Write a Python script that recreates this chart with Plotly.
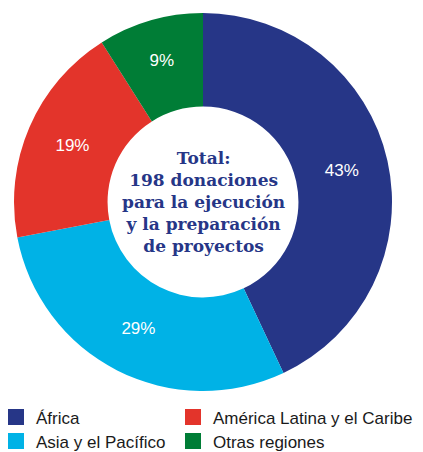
import plotly.graph_objects as go

labels = ["África", "Asia y el Pacífico", "América Latina y el Caribe", "Otras regiones"]
values = [43, 29, 19, 9]
colors = ["#263687", "#00B2E6", "#E3342B", "#007D36"]
legend_order = ["África", "América Latina y el Caribe", "Asia y el Pacífico", "Otras regiones"]
center_text = "Total:<br>198 donaciones<br>para la ejecución<br>y la preparación<br>de proyectos"

# page body adds an 8px margin, so the figure is drawn 8px smaller and everything is offset by -8px
OFF = 8
W, H = 423 - OFF, 452 - OFF
cx, cy, R = 203 - OFF, 202 - OFF, 189

fig = go.Figure()
fig.add_trace(go.Pie(
    labels=labels, values=values, sort=False, direction="clockwise", rotation=0,
    hole=0.505,
    marker=dict(colors=colors, line=dict(color="white", width=0)),
    texttemplate="%{value}%", textposition="inside", insidetextorientation="horizontal",
    textfont=dict(color="white", size=17, family="Liberation Sans"),
    showlegend=False, hoverinfo="label+value",
    domain=dict(x=[(cx - R) / W, (cx + R) / W], y=[1 - (cy + R) / H, 1 - (cy - R) / H]),
))

color_map = dict(zip(labels, colors))
row1, row2 = 417.5 - OFF, 441.5 - OFF
col1, col2 = 1 - OFF, 180 - OFF
legend_pos = {
    "África": (col1 - 5, row1),
    "América Latina y el Caribe": (col2 - 7, row1),
    "Asia y el Pacífico": (col1 - 5, row2),
    "Otras regiones": (col2 - 7, row2),
}
layout_legends = {}
for i, name in enumerate(legend_order):
    key = "legend" if i == 0 else f"legend{i+1}"
    fig.add_trace(go.Scatter(
        x=[None], y=[None], mode="markers", name=name,
        marker=dict(symbol="square", size=16, color=color_map[name]),
        legend=key, showlegend=True,
    ))
    lx, ly = legend_pos[name]
    layout_legends[key] = dict(
        x=lx / W, y=1 - ly / H, xanchor="left", yanchor="middle", orientation="h",
        font=dict(size=17, family="Liberation Sans", color="#1a1a1a"),
        bgcolor="rgba(0,0,0,0)", borderwidth=0, itemclick=False,
    )

fig.add_annotation(
    x=cx / W, y=1 - cy / H, xref="paper", yref="paper", text=center_text, showarrow=False,
    font=dict(size=17, family="DejaVu Serif", color="#263687", weight="bold"),
    align="center",
)

fig.update_layout(
    width=W, height=H, margin=dict(l=0, r=0, t=0, b=0, autoexpand=False),
    paper_bgcolor="white", plot_bgcolor="white",
    xaxis=dict(visible=False), yaxis=dict(visible=False),
    **layout_legends,
)
fig.write_html("out.html")
